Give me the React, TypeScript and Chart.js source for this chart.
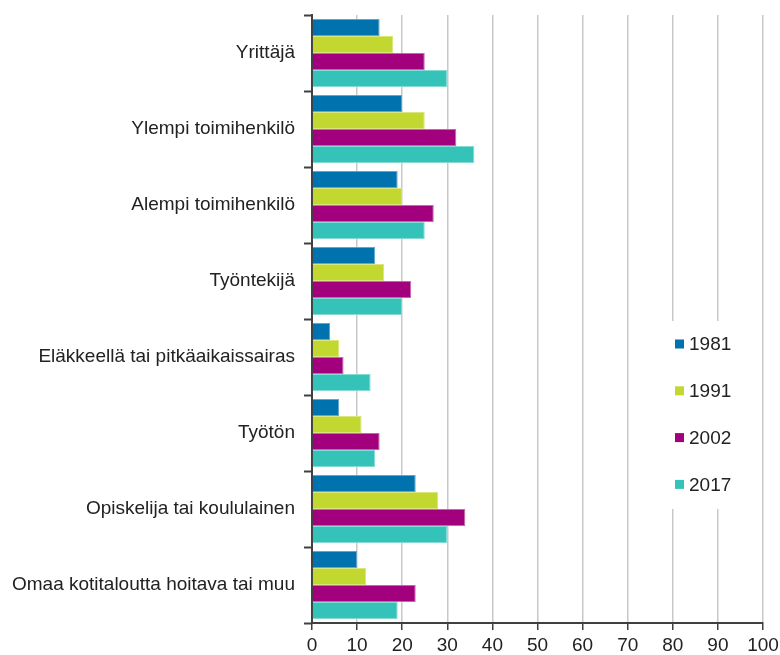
import React, { useEffect, useRef } from "react";
import { Chart, registerables } from "chart.js";

Chart.register(...registerables);

const categories = [
  "Yrittäjä",
  "Ylempi toimihenkilö",
  "Alempi toimihenkilö",
  "Työntekijä",
  "Eläkkeellä tai pitkäaikaissairas",
  "Työtön",
  "Opiskelija tai koululainen",
  "Omaa kotitaloutta hoitava tai muu",
];

const seriesLabels = ["1981", "1991", "2002", "2017"];
const values1981 = [15, 20, 19, 14, 4, 6, 23, 10];
const values1991 = [18, 25, 20, 16, 6, 11, 28, 12];
const values2002 = [25, 32, 27, 22, 7, 15, 34, 23];
const values2017 = [30, 36, 25, 20, 13, 14, 30, 19];
const xTicks = [0, 10, 20, 30, 40, 50, 60, 70, 80, 90, 100];

const colors = ["#0072ae", "#c2d72f", "#a2007c", "#35c2b8"];
const borders = ["#5fa6d0", "#d8e67a", "#c766b0", "#84dbd4"];

const FONT = "'Liberation Sans', Arial, sans-serif";

const legendPlugin = {
  id: "sideLegend",
  afterDraw(chart: any) {
    const ctx = chart.ctx;
    ctx.save();
    ctx.fillStyle = "#ffffff";
    ctx.fillRect(667, 321, 92, 188);
    const startY = 344;
    const step = 46.8;
    ctx.font = `19px ${FONT}`;
    ctx.textBaseline = "middle";
    ctx.textAlign = "left";
    chart.data.datasets.forEach((ds: any, i: number) => {
      const y = startY + i * step;
      ctx.fillStyle = ds.backgroundColor;
      ctx.fillRect(675, y - 4.5, 9, 9);
      ctx.fillStyle = "#222222";
      ctx.fillText(ds.label, 689, y + 1);
    });
    ctx.restore();
  },
};

export default function App() {
  const canvasRef = useRef<HTMLCanvasElement | null>(null);

  useEffect(() => {
    document.body.style.margin = "0";
    const canvas = canvasRef.current;
    if (!canvas) return;
    const allValues = [values1981, values1991, values2002, values2017];
    const chart = new Chart(canvas, {
      type: "bar",
      data: {
        labels: categories,
        datasets: seriesLabels.map((label, i) => ({
          label,
          data: allValues[i],
          backgroundColor: colors[i],
          borderColor: borders[i],
          borderWidth: 1,
          barPercentage: 1,
          categoryPercentage: 0.895,
        })),
      },
      options: {
        indexAxis: "y",
        animation: false,
        responsive: false,
        maintainAspectRatio: false,
        layout: { padding: { top: 15, right: 17, bottom: 0, left: 0 } },
        plugins: {
          legend: { display: false },
          tooltip: { enabled: false },
        },
        scales: {
          x: {
            min: 0,
            max: 100,
            afterBuildTicks: (scale: any) => {
              scale.ticks = xTicks.map((v) => ({ value: v }));
            },
            afterFit: (scale: any) => {
              scale.height = 32;
              scale.paddingLeft = 0;
              scale.paddingRight = 0;
            },
            grid: {
              color: "#c8c8c8",
              lineWidth: 1.5,
              tickColor: "#404040",
              tickLength: 7,
              tickWidth: 1.5,
            },
            border: { color: "#404040", width: 2 },
            ticks: {
              color: "#222222",
              padding: 4,
              font: { family: FONT, size: 19 },
              maxRotation: 0,
              autoSkip: false,
            },
          },
          y: {
            afterFit: (scale: any) => {
              scale.width = 312;
              scale.paddingTop = 0;
              scale.paddingBottom = 0;
            },
            grid: {
              offset: true,
              drawOnChartArea: false,
              tickColor: "#404040",
              tickLength: 8,
              tickWidth: 2,
            },
            border: { color: "#404040", width: 2 },
            ticks: {
              color: "#222222",
              padding: 9,
              font: { family: FONT, size: 19 },
              autoSkip: false,
            },
          },
        },
      },
      plugins: [legendPlugin],
    } as any);
    return () => chart.destroy();
  }, []);

  return (
    <div style={{ position: "absolute", left: 0, top: 0, width: 780, height: 655 }}>
      <canvas ref={canvasRef} width={780} height={655} style={{ width: 780, height: 655 }} />
    </div>
  );
}
